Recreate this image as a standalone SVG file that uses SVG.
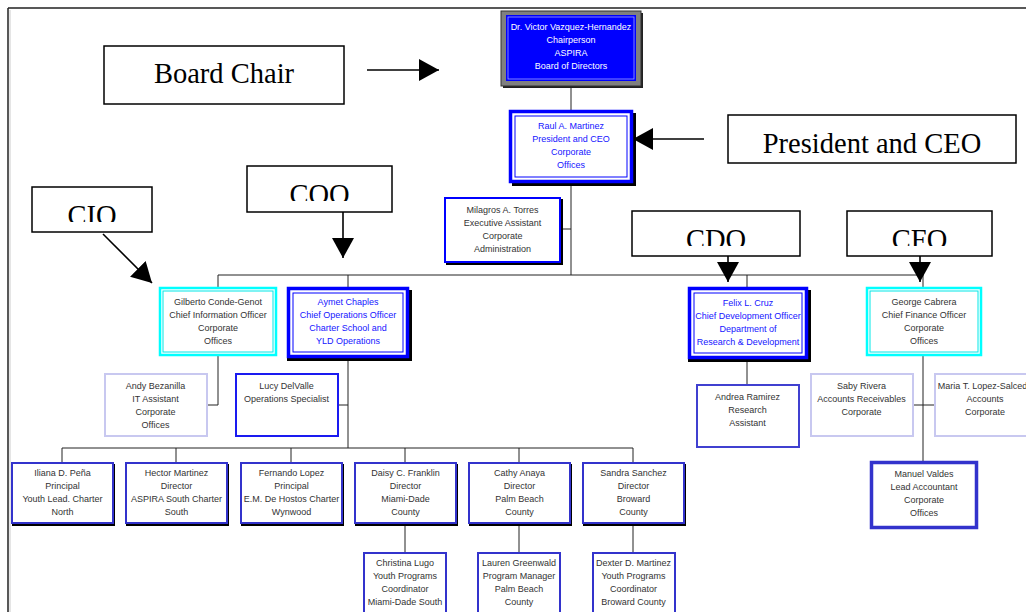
<svg xmlns="http://www.w3.org/2000/svg" width="1026" height="612" viewBox="0 0 1026 612">
<style>
.ln{stroke:#222;stroke-width:1;fill:none}
.ar{stroke:#000;stroke-width:1.6;fill:none}
.t{font-family:"Liberation Sans",Arial,sans-serif;font-size:9px;text-anchor:middle;fill:#333}
.tb{fill:#1515ff}
.tw{fill:#fff}
.lbl{font-family:"Liberation Serif","Times New Roman",serif;font-size:28.5px;text-anchor:middle;fill:#000}
.lb{fill:#fff;stroke:#000;stroke-width:1.5}
.sh{fill:#000}
.dbl{fill:#fff;stroke:#0000ff;stroke-width:3.5}
.dbi{fill:none;stroke:#0000ff;stroke-width:1}
.cy{fill:#fff;stroke:#00ffff;stroke-width:2.5}
.cyi{fill:none;stroke:#00e8e8;stroke-width:1}
.lav{fill:#fff;stroke:#c8c8f0;stroke-width:2}
.bl{fill:#fff;stroke:#0000ff;stroke-width:2}
.bm{fill:#fff;stroke:#3333cc;stroke-width:2}
</style>
<defs>
<marker id="ah" markerUnits="userSpaceOnUse" markerWidth="22" markerHeight="22" refX="20" refY="11" orient="auto">
<path d="M0,0 L20,11 L0,22 Z" fill="#000"/>
</marker>
<clipPath id="cCIO"><rect x="32" y="187" width="120" height="35"/></clipPath>
<clipPath id="cCOO"><rect x="247" y="166" width="145" height="35"/></clipPath>
<clipPath id="cCDO"><rect x="632" y="211" width="168" height="35"/></clipPath>
<clipPath id="cCFO"><rect x="847" y="211" width="145" height="35"/></clipPath>
</defs>
<rect width="1026" height="612" fill="#fff"/>
<g id="frame">
<path d="M8,8 H1026 M8,8 V612" stroke="#222" stroke-width="1.5" fill="none"/>
<path d="M10,10 V612" stroke="#ccc" stroke-width="1" fill="none"/>
</g>
<g id="connectors">
<path class="ln" d="M571,86 V110 M571,183 V275 M561,229 H571"/>
<path class="ln" d="M218,287 V275 H923 V287 M348,275 V287 M747,275 V287"/>
<path class="ln" d="M218,356 V405 H207"/>
<path class="ln" d="M348,358 V448 M338,405 H348"/>
<path class="ln" d="M62,462 V448 H633 V462 M176,448 V462 M291,448 V462 M405,448 V462 M519,448 V462"/>
<path class="ln" d="M405,523 V552 M519,523 V552 M633,523 V552"/>
<path class="ln" d="M747,359 V384"/>
<path class="ln" d="M923,356 V461 M913,405 H934"/>
<line class="ar" x1="367" y1="70" x2="439" y2="70" marker-end="url(#ah)"/>
<line class="ar" x1="704" y1="139" x2="633" y2="139" marker-end="url(#ah)"/>
<line class="ar" x1="103" y1="234" x2="152" y2="283" marker-end="url(#ah)"/>
<line class="ar" x1="343" y1="212" x2="343" y2="258" marker-end="url(#ah)"/>
<line class="ar" x1="728" y1="256" x2="728" y2="282" marker-end="url(#ah)"/>
<line class="ar" x1="920" y1="256" x2="920" y2="282" marker-end="url(#ah)"/>
</g>
<g id="lbl-board-chair"><rect class="lb" x="104" y="46" width="240" height="58"/><text class="lbl" x="224" y="83">Board Chair</text></g>
<g id="lbl-president"><rect class="lb" x="728" y="115" width="288" height="48"/><text class="lbl" x="872" y="153">President and CEO</text></g>
<g id="lbl-cio"><rect class="lb" x="32" y="187" width="120" height="45"/><text class="lbl" x="92" y="225" clip-path="url(#cCIO)">CIO</text></g>
<g id="lbl-coo"><rect class="lb" x="247" y="166" width="145" height="46"/><text class="lbl" x="319.5" y="204" clip-path="url(#cCOO)">COO</text></g>
<g id="lbl-cdo"><rect class="lb" x="632" y="211" width="168" height="45"/><text class="lbl" x="716" y="249" clip-path="url(#cCDO)">CDO</text></g>
<g id="lbl-cfo"><rect class="lb" x="847" y="211" width="145" height="45"/><text class="lbl" x="919.5" y="249" clip-path="url(#cCFO)">CFO</text></g>
<g id="chair">
<rect x="503" y="13" width="140" height="75" fill="#222"/>
<rect x="501" y="11" width="140" height="75" fill="#808080" stroke="#333" stroke-width="1"/>
<rect x="506" y="15" width="130" height="66" fill="#0000ff"/>
<rect x="508" y="17" width="126" height="62" fill="none" stroke="#a0a0ff" stroke-width="0.8"/>
<text class="t tw" x="571" y="30">Dr. Victor Vazquez-Hernandez</text>
<text class="t tw" x="571" y="43">Chairperson</text>
<text class="t tw" x="571" y="56">ASPIRA</text>
<text class="t tw" x="571" y="69">Board of Directors</text>
</g>
<g id="raul">
<rect class="sh" x="512" y="113" width="124" height="73"/>
<rect class="dbl" x="510.5" y="111.5" width="121" height="70"/>
<rect class="dbi" x="515" y="116" width="112" height="61"/>
<text class="t tb" x="571" y="129">Raul A. Martinez</text>
<text class="t tb" x="571" y="142">President and CEO</text>
<text class="t tb" x="571" y="155">Corporate</text>
<text class="t tb" x="571" y="168">Offices</text>
</g>
<g id="milagros">
<rect class="sh" x="446" y="199" width="117" height="66"/>
<rect class="bl" x="445" y="198" width="115" height="64"/>
<text class="t" x="502.5" y="213">Milagros A. Torres</text>
<text class="t" x="502.5" y="226">Executive Assistant</text>
<text class="t" x="502.5" y="239">Corporate</text>
<text class="t" x="502.5" y="252">Administration</text>
</g>
<g id="gilberto">
<rect class="cy" x="160" y="288" width="116" height="67"/>
<rect class="cyi" x="163" y="291" width="110" height="61"/>
<text class="t" x="218" y="305">Gilberto Conde-Genot</text>
<text class="t" x="218" y="318">Chief  Information  Officer</text>
<text class="t" x="218" y="331">Corporate</text>
<text class="t" x="218" y="344">Offices</text>
</g>
<g id="aymet">
<rect class="sh" x="287" y="290" width="125" height="71"/>
<rect class="dbl" x="288.5" y="288.5" width="119" height="68"/>
<rect class="dbi" x="293" y="293" width="110" height="59"/>
<text class="t tb" x="348" y="305">Aymet Chaples</text>
<text class="t tb" x="348" y="318">Chief Operations Officer</text>
<text class="t tb" x="348" y="331">Charter School and</text>
<text class="t tb" x="348" y="344">YLD Operations</text>
</g>
<g id="felix">
<rect class="sh" x="688" y="290" width="123" height="72"/>
<rect class="dbl" x="689.5" y="288.5" width="117" height="69"/>
<rect class="dbi" x="694" y="293" width="108" height="60"/>
<text class="t tb" x="748" y="306">Felix L. Cruz</text>
<text class="t tb" x="748" y="319">Chief Development Officer</text>
<text class="t tb" x="748" y="332">Department of</text>
<text class="t tb" x="748" y="345">Research &amp; Development</text>
</g>
<g id="george">
<rect class="cy" x="867" y="288" width="114" height="67"/>
<rect class="cyi" x="870" y="291" width="108" height="61"/>
<text class="t" x="924" y="305">George Cabrera</text>
<text class="t" x="924" y="318">Chief Finance Officer</text>
<text class="t" x="924" y="331">Corporate</text>
<text class="t" x="924" y="344">Offices</text>
</g>
<g id="andy">
<rect class="lav" x="105" y="374" width="102" height="62"/>
<text class="t" x="155.5" y="389">Andy Bezanilla</text>
<text class="t" x="155.5" y="402">IT Assistant</text>
<text class="t" x="155.5" y="415">Corporate</text>
<text class="t" x="155.5" y="428">Offices</text>
</g>
<g id="lucy">
<rect x="236" y="374" width="102" height="62" fill="#fff" stroke="#1a1af0" stroke-width="2"/>
<text class="t" x="286.5" y="389">Lucy DelValle</text>
<text class="t" x="286.5" y="402">Operations  Specialist</text>
</g>
<g id="andrea">
<rect x="697" y="385" width="102" height="62" fill="#fff" stroke="#4040d0" stroke-width="2"/>
<text class="t" x="747.5" y="400">Andrea Ramirez</text>
<text class="t" x="747.5" y="413">Research</text>
<text class="t" x="747.5" y="426">Assistant</text>
</g>
<g id="saby">
<rect class="lav" x="811" y="374" width="102" height="62"/>
<text class="t" x="861.5" y="389">Saby Rivera</text>
<text class="t" x="861.5" y="402">Accounts Receivables</text>
<text class="t" x="861.5" y="415">Corporate</text>
</g>
<g id="maria">
<rect class="lav" x="935" y="374" width="102" height="62"/>
<text class="t" x="985" y="389">Maria T. Lopez-Salcedo</text>
<text class="t" x="985" y="402">Accounts</text>
<text class="t" x="985" y="415">Corporate</text>
</g>
<g id="manuel">
<rect x="871.5" y="462.5" width="105" height="65" fill="#fff" stroke="#3333cc" stroke-width="3.5"/>
<text class="t" x="924" y="477">Manuel Valdes</text>
<text class="t" x="924" y="490">Lead Accountant</text>
<text class="t" x="924" y="503">Corporate</text>
<text class="t" x="924" y="516">Offices</text>
</g>
<g id="iliana">
<rect class="sh" x="12" y="464" width="103" height="62"/>
<rect class="bm" x="12" y="463" width="101" height="60"/>
<text class="t" x="62.5" y="476">Iliana D. Peña</text>
<text class="t" x="62.5" y="489">Principal</text>
<text class="t" x="62.5" y="502">Youth Lead. Charter</text>
<text class="t" x="62.5" y="515">North</text>
</g>
<g id="hector">
<rect class="sh" x="126" y="464" width="103" height="62"/>
<rect class="bm" x="126" y="463" width="101" height="60"/>
<text class="t" x="176.5" y="476">Hector Martinez</text>
<text class="t" x="176.5" y="489">Director</text>
<text class="t" x="176.5" y="502">ASPIRA South Charter</text>
<text class="t" x="176.5" y="515">South</text>
</g>
<g id="fernando">
<rect class="sh" x="241" y="464" width="103" height="62"/>
<rect class="bm" x="241" y="463" width="101" height="60"/>
<text class="t" x="291.5" y="476">Fernando Lopez</text>
<text class="t" x="291.5" y="489">Principal</text>
<text class="t" x="291.5" y="502">E.M. De Hostos Charter</text>
<text class="t" x="291.5" y="515">Wynwood</text>
</g>
<g id="daisy">
<rect class="sh" x="355" y="464" width="103" height="62"/>
<rect class="bm" x="355" y="463" width="101" height="60"/>
<text class="t" x="405.5" y="476">Daisy C. Franklin</text>
<text class="t" x="405.5" y="489">Director</text>
<text class="t" x="405.5" y="502">Miami-Dade</text>
<text class="t" x="405.5" y="515">County</text>
</g>
<g id="cathy">
<rect class="sh" x="469" y="464" width="103" height="62"/>
<rect class="bm" x="469" y="463" width="101" height="60"/>
<text class="t" x="519.5" y="476">Cathy Anaya</text>
<text class="t" x="519.5" y="489">Director</text>
<text class="t" x="519.5" y="502">Palm Beach</text>
<text class="t" x="519.5" y="515">County</text>
</g>
<g id="sandra">
<rect class="sh" x="583" y="464" width="103" height="62"/>
<rect class="bm" x="583" y="463" width="101" height="60"/>
<text class="t" x="633.5" y="476">Sandra Sanchez</text>
<text class="t" x="633.5" y="489">Director</text>
<text class="t" x="633.5" y="502">Broward</text>
<text class="t" x="633.5" y="515">County</text>
</g>
<g id="christina">
<rect class="bm" x="364" y="553" width="82" height="64"/>
<text class="t" x="405" y="566">Christina Lugo</text>
<text class="t" x="405" y="579">Youth Programs</text>
<text class="t" x="405" y="592">Coordinator</text>
<text class="t" x="405" y="605">Miami-Dade South</text>
</g>
<g id="lauren">
<rect class="bm" x="478" y="553" width="82" height="64"/>
<text class="t" x="519" y="566">Lauren Greenwald</text>
<text class="t" x="519" y="579">Program Manager</text>
<text class="t" x="519" y="592">Palm Beach</text>
<text class="t" x="519" y="605">County</text>
</g>
<g id="dexter">
<rect class="bm" x="593" y="553" width="82" height="64"/>
<text class="t" x="633.5" y="566">Dexter D. Martinez</text>
<text class="t" x="633.5" y="579">Youth Programs</text>
<text class="t" x="633.5" y="592">Coordinator</text>
<text class="t" x="633.5" y="605">Broward County</text>
</g>
</svg>
